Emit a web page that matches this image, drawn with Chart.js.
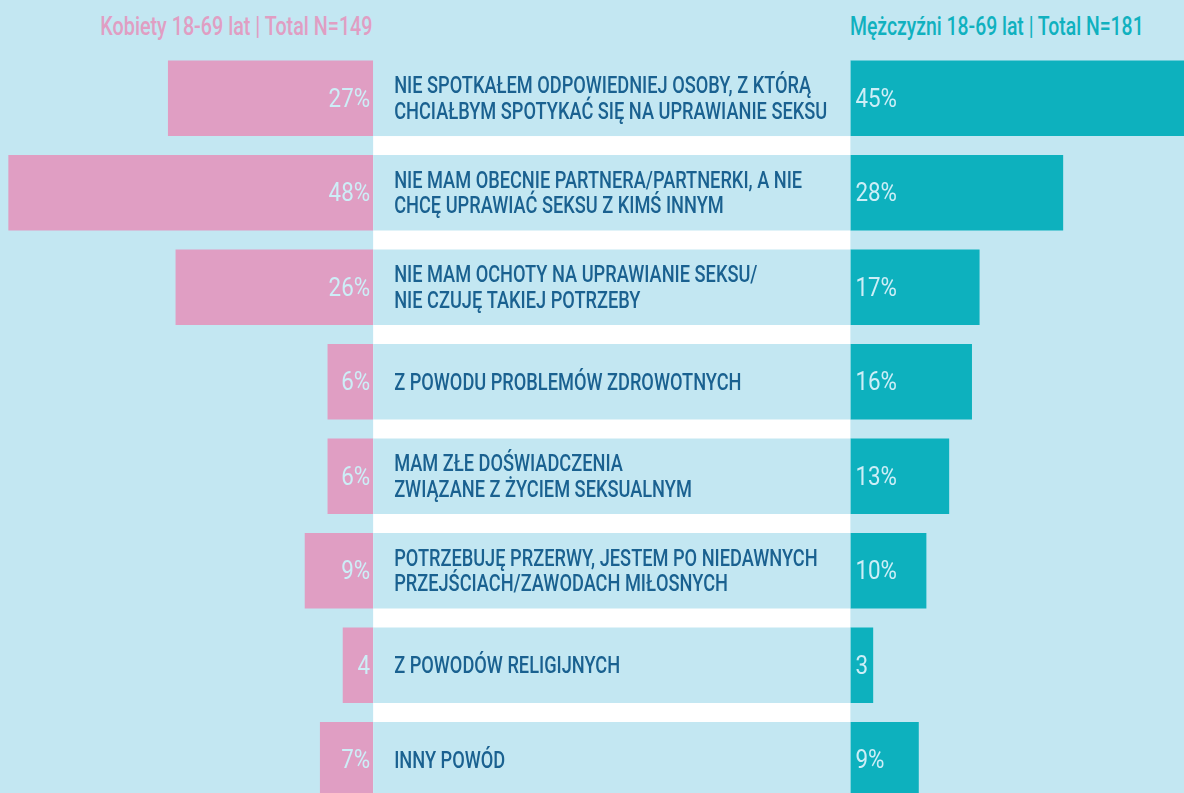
<!DOCTYPE html>
<html>
<head>
<meta charset="utf-8">
<script src="https://cdn.jsdelivr.net/npm/chart.js@4.4.0/dist/chart.umd.min.js"></script>
<style>
  html, body { margin: 0; padding: 0; width: 1184px; height: 793px; overflow: hidden; background: #c3e7f2; font-family: Roboto, sans-serif; }
  .head { position: absolute; top: 12px; font-size: 25px; line-height: 30px; font-weight: 500; white-space: nowrap; }
  #headLeft { right: 811px; color: #e09ec3; transform: scaleX(0.79); transform-origin: right center; }
  #headRight { left: 850px; color: #10b1bf; transform: scaleX(0.775); transform-origin: left center; }
  #wrap { position: absolute; left: 0; top: 51px; width: 1184px; height: 756px; }
</style>
</head>
<body>
<div class="head" id="headLeft">Kobiety 18-69 lat | Total N=149</div>
<div class="head" id="headRight">Mężczyźni 18-69 lat | Total N=181</div>
<div id="wrap"><canvas id="chart"></canvas></div>
<script>
// reasons, each split into the lines used in the original
const categories = [
  ['NIE SPOTKAŁEM ODPOWIEDNIEJ OSOBY, Z KTÓRĄ', 'CHCIAŁBYM SPOTYKAĆ SIĘ NA UPRAWIANIE SEKSU'],
  ['NIE MAM OBECNIE PARTNERA/PARTNERKI, A NIE', 'CHCĘ UPRAWIAĆ SEKSU Z KIMŚ INNYM'],
  ['NIE MAM OCHOTY NA UPRAWIANIE SEKSU/', 'NIE CZUJĘ TAKIEJ POTRZEBY'],
  ['Z POWODU PROBLEMÓW ZDROWOTNYCH'],
  ['MAM ZŁE DOŚWIADCZENIA', 'ZWIĄZANE Z ŻYCIEM SEKSUALNYM'],
  ['POTRZEBUJĘ PRZERWY, JESTEM PO NIEDAWNYCH', 'PRZEJŚCIACH/ZAWODACH MIŁOSNYCH'],
  ['Z POWODÓW RELIGIJNYCH'],
  ['INNY POWÓD']
];
const women = [27, 48, 26, 6, 6, 9, 4, 7];
const men = [45, 28, 17, 16, 13, 10, 3, 9];
const womenLabels = ['27%', '48%', '26%', '6%', '6%', '9%', '4', '7%'];
const menLabels = ['45%', '28%', '17%', '16%', '13%', '10%', '3', '9%'];

// width of the middle label column, in % units of the bar scale
const MID = 62.8;

const BG = '#c3e7f2';

function drawText(ctx, text, x, y, align, sx) {
  ctx.save();
  ctx.translate(x, y);
  ctx.scale(sx, 1);
  ctx.textAlign = align;
  ctx.textBaseline = 'middle';
  ctx.fillText(text, 0, 0);
  ctx.restore();
}

// white strips between the rows of the label column
const stripPlugin = {
  id: 'strips',
  beforeDatasetsDraw(chart) {
    const ctx = chart.ctx;
    const xs = chart.scales.x;
    const first = chart.getDatasetMeta(0).data[0];
    const yTop = first.y + first.height / 2;
    const x0 = xs.getPixelForValue(0);
    ctx.save();
    ctx.fillStyle = '#ffffff';
    ctx.fillRect(x0, yTop, xs.getPixelForValue(MID) - x0, chart.chartArea.bottom - yTop);
    ctx.restore();
  }
};

const textPlugin = {
  id: 'texts',
  afterDatasetsDraw(chart) {
    const ctx = chart.ctx;
    const xs = chart.scales.x;
    const x0 = xs.getPixelForValue(0);
    const xm = xs.getPixelForValue(MID);
    const bars = chart.getDatasetMeta(0).data;
    ctx.save();
    bars.forEach((bar, i) => {
      const lines = categories[i];
      const lh = 25.5;
      ctx.font = '500 23.5px Roboto';
      ctx.fillStyle = '#1a6190';
      lines.forEach((line, j) => {
        const y = bar.y - (lines.length - 1) * lh / 2 + j * lh + 2;
        drawText(ctx, line, x0 + 21, y, 'left', 0.775);
      });
      ctx.font = '400 26px Roboto';
      ctx.fillStyle = '#cdeef7';
      drawText(ctx, womenLabels[i], x0 - 3, bar.y + 2, 'right', 0.86);
      drawText(ctx, menLabels[i], xm + 5, bar.y + 2, 'left', 0.86);
    });
    ctx.restore();
  }
};

function build() {
  new Chart(document.getElementById('chart'), {
    type: 'bar',
    data: {
      labels: categories,
      datasets: [
        {
          label: 'band',
          data: categories.map(() => [0, MID]),
          backgroundColor: BG
        },
        {
          label: 'Kobiety',
          data: women.map(v => [-v, 0]),
          backgroundColor: '#e09ec3'
        },
        {
          label: 'Mężczyźni',
          data: men.map(v => [MID, MID + v]),
          backgroundColor: '#0db1be'
        }
      ]
    },
    options: {
      indexAxis: 'y',
      responsive: true,
      maintainAspectRatio: false,
      animation: false,
      layout: { padding: 0 },
      datasets: {
        bar: { grouped: false, barPercentage: 0.8, categoryPercentage: 1, borderWidth: 0 }
      },
      plugins: {
        legend: { display: false },
        tooltip: { enabled: false }
      },
      scales: {
        x: { type: 'linear', min: -49.1, max: 106.7, display: false },
        y: { display: false }
      }
    },
    plugins: [stripPlugin, textPlugin]
  });
}

Promise.all([
  document.fonts.load('500 23.5px Roboto'),
  document.fonts.load('400 26px Roboto')
]).then(build, build);
</script>
</body>
</html>
